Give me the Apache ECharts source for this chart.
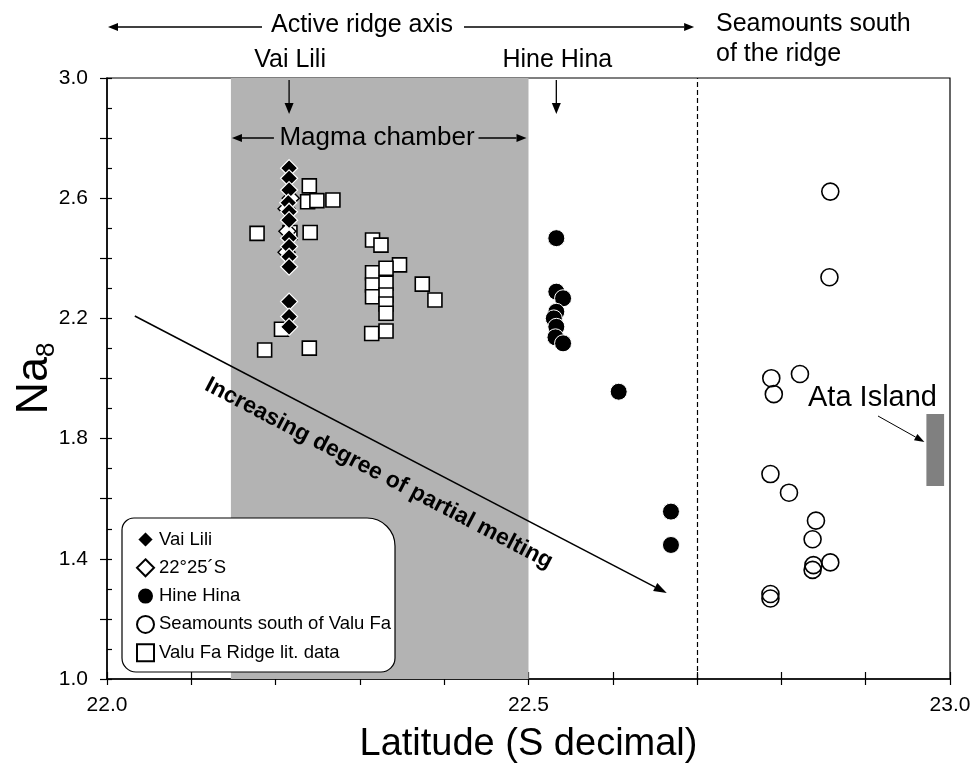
<!DOCTYPE html>
<html>
<head>
<meta charset="utf-8">
<script src="https://cdn.jsdelivr.net/npm/echarts@6/dist/echarts.min.js"></script>
<style>html,body{margin:0;padding:0;background:#fff}#c{width:975px;height:771px}</style>
</head>
<body>
<div id="c"></div>
<script>
// ---- data (latitude °S, Na8) ----
const vaiLili = [[22.216,2.700],[22.216,2.666],[22.216,2.627],[22.215,2.585],[22.216,2.555],[22.216,2.527],[22.216,2.467],[22.216,2.439],[22.216,2.405],[22.216,2.372],[22.216,2.256],[22.216,2.206],[22.216,2.172]];
const s2225 = [[22.218,2.600],[22.213,2.565],[22.214,2.490],[22.213,2.420]];
const hineHina = [[22.533,2.467],[22.533,2.289],[22.541,2.267],[22.533,2.222],[22.530,2.200],[22.533,2.172],[22.532,2.137],[22.541,2.117],[22.607,1.956],[22.669,1.557],[22.669,1.446]];
const seamounts = [[22.858,2.622],[22.857,2.337],[22.788,2.001],[22.822,2.015],[22.791,1.948],[22.787,1.682],[22.809,1.620],[22.841,1.527],[22.837,1.465],[22.858,1.388],[22.838,1.379],[22.837,1.363],[22.787,1.283],[22.787,1.268]];
const valuFaLit = [[22.240,2.641],[22.238,2.588],[22.249,2.592],[22.268,2.594],[22.178,2.483],[22.241,2.486],[22.217,2.486],[22.315,2.461],[22.325,2.444],[22.347,2.378],[22.315,2.352],[22.331,2.367],[22.315,2.311],[22.331,2.317],[22.315,2.272],[22.331,2.278],[22.331,2.248],[22.331,2.217],[22.314,2.150],[22.331,2.158],[22.374,2.314],[22.389,2.261],[22.207,2.164],[22.187,2.095],[22.240,2.101]];
const magmaChamber = [22.147, 22.5];
const ridgeBoundary = 22.7;
const ataLat = [22.972, 22.993];
const ataNa = [1.642, 1.882];
const meltArrow = [[22.033, 2.208], [22.664, 1.286]];
const xTickLabels = [22.0, 22.5, 23.0];
const yTickLabels = [1.0, 1.4, 1.8, 2.2, 2.6, 3.0];

const FONT = 'Liberation Sans, Arial, sans-serif';
const chart = echarts.init(document.getElementById('c'));
const baseX = {type:'value', min:22.0, max:23.0, interval:0.1, position:'bottom', splitLine:{show:false}};
const baseY = {type:'value', min:1.0, max:3.0, position:'left', splitLine:{show:false}};

chart.setOption({
  animation:false,
  backgroundColor:'#fff',
  grid:{left:107, right:25, top:78, bottom:92, show:true, borderColor:'#000', borderWidth:1.2,
    containLabel:false, outerBoundsMode:'none'},
  xAxis:[
    Object.assign({}, baseX, {
      name:'Latitude (S decimal)', nameLocation:'middle', nameGap:47, nameMoveOverlap:false,
      nameTextStyle:{fontSize:38, color:'#000', fontFamily:FONT},
      axisLine:{show:true, lineStyle:{color:'#000', width:1.5}},
      axisTick:{show:true, inside:true, length:7, lineStyle:{color:'#000', width:1.2}},
      axisLabel:{color:'#000', fontSize:21, fontFamily:FONT, margin:16,
        formatter:v => xTickLabels.some(t => Math.abs(t - v) < 1e-6) ? v.toFixed(1) : ''}
    }),
    Object.assign({}, baseX, {
      axisLine:{show:false}, axisLabel:{show:false},
      axisTick:{show:true, inside:false, length:6, lineStyle:{color:'#000', width:1.2}}
    })
  ],
  yAxis:[
    Object.assign({}, baseY, {
      interval:0.1,
      name:'{a|Na}{b|8}', nameLocation:'middle', nameGap:47, nameRotate:90, nameMoveOverlap:false,
      nameTextStyle:{color:'#000', fontFamily:FONT, rich:{
        a:{fontSize:45, fontFamily:FONT, color:'#000'},
        b:{fontSize:26, fontFamily:FONT, color:'#000', padding:[24,0,0,0]}
      }},
      axisLine:{show:true, lineStyle:{color:'#000', width:1.5}},
      axisTick:{show:true, inside:true, length:5, lineStyle:{color:'#000', width:1.2}},
      axisLabel:{color:'#000', fontSize:21, fontFamily:FONT, margin:19,
        formatter:v => yTickLabels.some(t => Math.abs(t - v) < 1e-6) ? v.toFixed(1) : ''}
    }),
    Object.assign({}, baseY, {
      interval:0.2,
      axisLine:{show:false}, axisLabel:{show:false},
      axisTick:{show:true, inside:false, length:7, lineStyle:{color:'#000', width:1.2}}
    })
  ],
  legend:{
    orient:'vertical', left:131, top:525, itemWidth:17, itemHeight:17, itemGap:9.3, itemTextGap:9,
    data:['Vai Lili','22°25´S','Hine Hina','Seamounts south of Valu Fa','Valu Fa Ridge lit. data'],
    textStyle:{fontSize:18.5, color:'#000', fontFamily:FONT, lineHeight:16},
    z:6
  },
  series:[
    {name:'bg', type:'scatter', data:[], z:1, silent:true,
      markArea:{silent:true, data:[
        [{xAxis:magmaChamber[0], itemStyle:{color:'#b3b3b3'}}, {xAxis:magmaChamber[1]}],
        [{coord:[ataLat[0], ataNa[1]], itemStyle:{color:'#808080'}}, {coord:[ataLat[1], ataNa[0]]}]
      ]},
      markLine:{silent:true, symbol:['none','none'], label:{show:false},
        lineStyle:{color:'#000', width:1.2, type:[5,3]},
        data:[{xAxis:ridgeBoundary}]}
    },
    {name:'Valu Fa Ridge lit. data', type:'scatter', z:2, symbol:'rect', symbolSize:14, data:valuFaLit,
      itemStyle:{color:'#fff', borderColor:'#000', borderWidth:1.6, opacity:1}},
    {name:'22°25´S', type:'scatter', z:3, symbol:'diamond', symbolSize:17, data:s2225,
      itemStyle:{color:'#fff', borderColor:'#000', borderWidth:1.4, opacity:1}},
    {name:'Vai Lili', type:'scatter', z:4, symbol:'diamond', symbolSize:17, data:vaiLili,
      itemStyle:{color:'#000', borderColor:'#fff', borderWidth:1.2, opacity:1}},
    {name:'Hine Hina', type:'scatter', z:4, symbol:'circle', symbolSize:17, data:hineHina,
      itemStyle:{color:'#000', borderColor:'#fff', borderWidth:1, opacity:1}},
    {name:'Seamounts south of Valu Fa', type:'scatter', z:4, symbol:'circle', symbolSize:17, data:seamounts,
      itemStyle:{color:'rgba(255,255,255,0)', borderColor:'#000', borderWidth:1.6, opacity:1}}
  ]
});

function arrow(x1, y1, x2, y2, len, w, lw) {
  const a = Math.atan2(y2 - y1, x2 - x1);
  const bx = x2 - len * Math.cos(a), by = y2 - len * Math.sin(a);
  const px = -Math.sin(a) * w / 2, py = Math.cos(a) * w / 2;
  return [
    {type:'line', z:10, shape:{x1:x1, y1:y1, x2:bx, y2:by}, style:{stroke:'#000', lineWidth:lw}},
    {type:'polygon', z:10, shape:{points:[[x2, y2], [bx + px, by + py], [bx - px, by - py]]}, style:{fill:'#000'}}
  ];
}
function txt(t, x, y, size, opts) {
  return Object.assign({type:'text', z:10, x:x, y:y,
    style:{text:t, fill:'#000', font:(opts && opts.weight ? opts.weight + ' ' : '') + size + 'px ' + FONT,
      textAlign:(opts && opts.align) || 'center', textVerticalAlign:'middle'}},
    opts && opts.rotation !== undefined ? {rotation:opts.rotation} : {});
}

const p0 = chart.convertToPixel({gridIndex:0}, meltArrow[0]);
const p1 = chart.convertToPixel({gridIndex:0}, meltArrow[1]);
const ang = Math.atan2(p1[1] - p0[1], p1[0] - p0[0]);
const vx = chart.convertToPixel({xAxisIndex:0}, vaiLili[0][0]);
const hx = chart.convertToPixel({xAxisIndex:0}, hineHina[0][0]);
const mL = chart.convertToPixel({xAxisIndex:0}, magmaChamber[0]);
const mR = chart.convertToPixel({xAxisIndex:0}, magmaChamber[1]);
const rb = chart.convertToPixel({xAxisIndex:0}, ridgeBoundary);
const ataP = chart.convertToPixel({gridIndex:0}, [ataLat[0], (ataNa[0] + ataNa[1]) / 2]);
const plotTop = 78;

const midX = p0[0] + (p1[0] - p0[0]) * 0.482, midY = p0[1] + (p1[1] - p0[1]) * 0.482;
const off = 27;
const tX = midX - Math.sin(ang) * off, tY = midY + Math.cos(ang) * off;

const g = [
  {type:'rect', z:3, shape:{x:122, y:518, width:273, height:154, r:[12, 28, 14, 14]},
    style:{fill:'#fff', stroke:'#000', lineWidth:1.2}},
  txt('Active ridge axis', 362, 25, 25),
  ...arrow(262, 27, 108, 27, 10, 8, 1.3),
  ...arrow(464, 27, rb - 3, 27, 10, 8, 1.3),
  txt('Seamounts south', 716, 24, 25, {align:'left'}),
  txt('of the ridge', 716, 54, 25, {align:'left'}),
  txt('Vai Lili', vx + 1, 60, 25),
  ...arrow(vx, plotTop + 2, vx, plotTop + 36, 11, 9, 1.3),
  txt('Hine Hina', hx + 1, 60, 25),
  ...arrow(hx, plotTop + 2, hx, plotTop + 36, 11, 9, 1.3),
  txt('Magma chamber', 377, 138, 26),
  ...arrow(mL + 43, 138, mL + 1, 138, 10, 8, 1.3),
  ...arrow(mR - 50, 138, mR - 2, 138, 10, 8, 1.3),
  ...arrow(p0[0], p0[1], p1[0], p1[1], 13, 9, 1.5),
  txt('Increasing degree of partial melting', tX, tY, 23, {weight:'bold', rotation:-ang}),
  txt('Ata Island', 808, 398, 29, {align:'left'}),
  ...arrow(878, 416, ataP[0] - 2, ataP[1] - 8, 10, 7, 1)
];
chart.setOption({graphic:g});
</script>
</body>
</html>
